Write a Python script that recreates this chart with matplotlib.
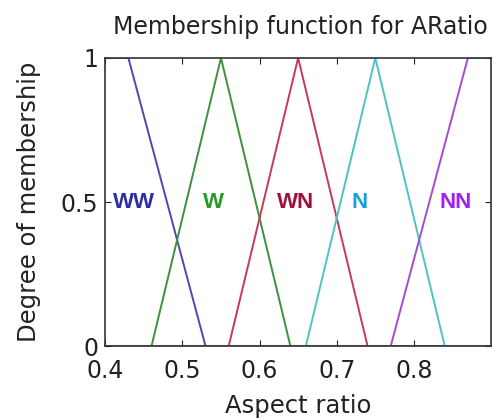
import numpy as np
import matplotlib
matplotlib.use('Agg')
import matplotlib.pyplot as plt

plt.rcParams['font.family'] = ['DejaVu Sans']

# Data: membership functions as trapezoids [a, b, c, d]
names = ['WW', 'W', 'WN', 'N', 'NN']
params = [
    [0.30, 0.30, 0.43, 0.53],
    [0.46, 0.55, 0.55, 0.64],
    [0.56, 0.65, 0.65, 0.74],
    [0.66, 0.75, 0.75, 0.84],
    [0.77, 0.87, 1.00, 1.00],
]
line_colors = ['#4a4ab0', '#3f8f3f', '#c8385a', '#4cc4c4', '#a24cd0']
text_colors = ['#2e2e9e', '#2a9a2a', '#a0103c', '#1ca0d8', '#a020f0']
label_x = [0.437, 0.54, 0.647, 0.73, 0.854]

x = np.linspace(0.3, 1.0, 1401)


def trapmf(x, a, b, c, d):
    left = np.where(b > a, (x - a) / max(b - a, 1e-9), 1.0)
    right = np.where(d > c, (d - x) / max(d - c, 1e-9), 1.0)
    return np.clip(np.minimum(np.minimum(left, right), 1.0), 0, 1)


fig = plt.figure(figsize=(4.94, 4.2), dpi=100)
ax = fig.add_axes([0.213, 0.176, 0.781, 0.686])

for p, lc, tc, name, lx in zip(params, line_colors, text_colors, names, label_x):
    ax.plot(x, trapmf(x, *p), color=lc, linewidth=1.4)
    ax.text(lx, 0.5, name, color=tc, fontsize=16, fontweight='bold',
            family='Liberation Sans', ha='center', va='center')

ax.set_xlim(0.4, 0.9)
ax.set_ylim(0, 1)
ax.set_xticks([0.4, 0.5, 0.6, 0.7, 0.8])
ax.set_xticklabels(['0.4', '0.5', '0.6', '0.7', '0.8'])
ax.set_yticks([0, 0.5, 1])
ax.set_yticklabels(['0', '0.5', '1'])
ax.tick_params(direction='in', length=4, labelsize=17, top=True, right=True,
               color='#222222', labelcolor='#222222')
ax.tick_params(axis='x', pad=9)
ax.tick_params(axis='y', pad=5)
for s in ax.spines.values():
    s.set_linewidth(1.2)
    s.set_color('#333333')

ax.set_xlabel('Aspect ratio', fontsize=17.5, color='#222222', labelpad=8)
ax.set_ylabel('Degree of membership', fontsize=17.5, color='#222222', labelpad=14)
ax.set_title('Membership function for ARatio', fontsize=17, color='#222222',
             pad=17, x=0.505)

fig.savefig('out.png', dpi=100)
